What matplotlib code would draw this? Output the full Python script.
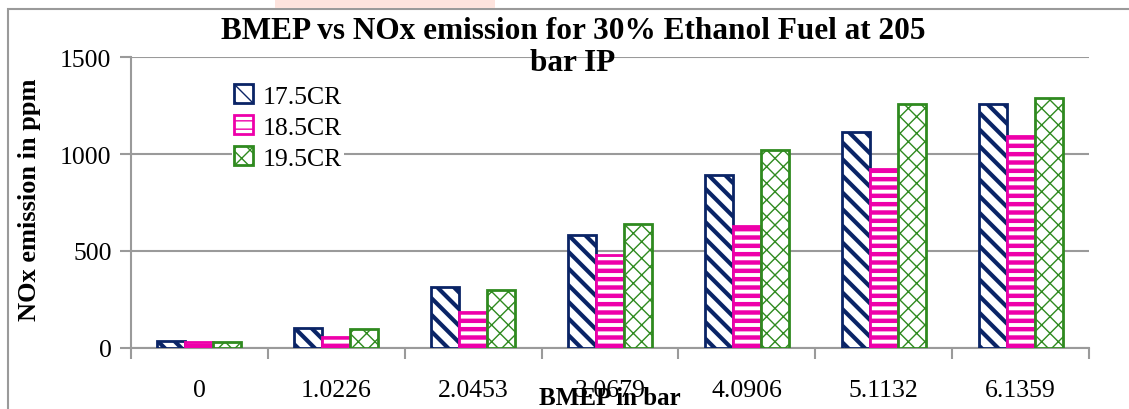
import numpy as np
import matplotlib
matplotlib.use('Agg')
import matplotlib.pyplot as plt
from matplotlib.patches import Rectangle

# BMEP categories and NOx readings (ppm) for each compression ratio
bmep = ['0', '1.0226', '2.0453', '3.0679', '4.0906', '5.1132', '6.1359']
cr175 = [35, 101, 313, 582, 892, 1112, 1259]
cr185 = [33, 55, 186, 479, 630, 923, 1093]
cr195 = [33, 98, 299, 639, 1019, 1259, 1289]

series = [('17.5CR', cr175, '#0a2466', '\\\\', 3.0),
          ('18.5CR', cr185, '#ee00aa', '--', 3.2),
          ('19.5CR', cr195, '#2f8a1f', 'xx', 1.0)]

plt.rcParams['font.family'] = ['Liberation Serif', 'DejaVu Serif']

fig = plt.figure(figsize=(11.29, 4.10), dpi=100)
ax = fig.add_axes([0.116, 0.1488, 0.8486, 0.7097])

# frame round the chart and faint smudge along the top edge
fig.add_artist(Rectangle((8/1129, -0.1), 1.2, 1 - 10/410 + 0.1, transform=fig.transFigure,
                         fill=False, edgecolor='#9a9a9a', linewidth=1.5, zorder=0))
fig.add_artist(Rectangle((275/1129, 1 - 9/410), 220/1129, 9/410, transform=fig.transFigure,
                         facecolor='#fde3dd', edgecolor='none', zorder=0))

x = np.arange(len(bmep))
w = 0.205
handles = []
for i, (name, vals, col, hatch, hlw) in enumerate(series):
    with plt.rc_context({'hatch.linewidth': hlw, 'hatch.color': col}):
        bars = ax.bar(x + (i - 1) * w, vals, w, facecolor='white', edgecolor=col,
                      hatch=hatch, linewidth=2.0, label=name, zorder=3)
        for b in bars:
            if hasattr(b, 'set_hatch_linewidth'):
                b.set_hatch_linewidth(hlw)
    handles.append(bars)

ax.set_xlim(-0.5, len(bmep) - 0.5)
ax.set_ylim(0, 1500)
ax.set_yticks([0, 500, 1000, 1500])
ax.set_xticks(x)
ax.set_xticklabels(bmep)
ax.set_xticks(np.arange(-0.5, len(bmep)), minor=True)
ax.tick_params(axis='x', which='major', length=0, pad=22, labelsize=18.5)
ax.tick_params(axis='x', which='minor', length=8, color='#9a9a9a', width=1.5)
ax.tick_params(axis='y', length=8, color='#9a9a9a', width=1.5, pad=6, labelsize=18.5)

ax.yaxis.grid(True, color='#9a9a9a', linewidth=1.5, zorder=0)
ax.set_axisbelow(True)
for s in ['top', 'right']:
    ax.spines[s].set_visible(False)
for s in ['left', 'bottom']:
    ax.spines[s].set_color('#9a9a9a')
    ax.spines[s].set_linewidth(1.5)

leg = ax.legend(loc='upper left', bbox_to_anchor=(0.105, 0.915), frameon=True,
                fontsize=18.5, handlelength=0.75, handleheight=0.75, handletextpad=0.35,
                labelspacing=0.3, borderpad=0.1, borderaxespad=0)
leg.get_frame().set_edgecolor('none')
leg.get_frame().set_facecolor('white')
leg.get_frame().set_alpha(1)

fig.text(573/1129, 1 - 17/410, 'BMEP vs NOx emission for 30% Ethanol Fuel at 205\nbar IP',
         ha='center', va='top', fontsize=22.5, fontweight='bold', linespacing=1.15)
fig.text(30/1129, 1 - 200/410, 'NOx emission in ppm', rotation=90, ha='center', va='center',
         fontsize=19, fontweight='bold')
fig.text(610/1129, 1 - 399/410, 'BMEP in bar', ha='center', va='center',
         fontsize=18, fontweight='bold')

fig.savefig('out.png', dpi=100)
